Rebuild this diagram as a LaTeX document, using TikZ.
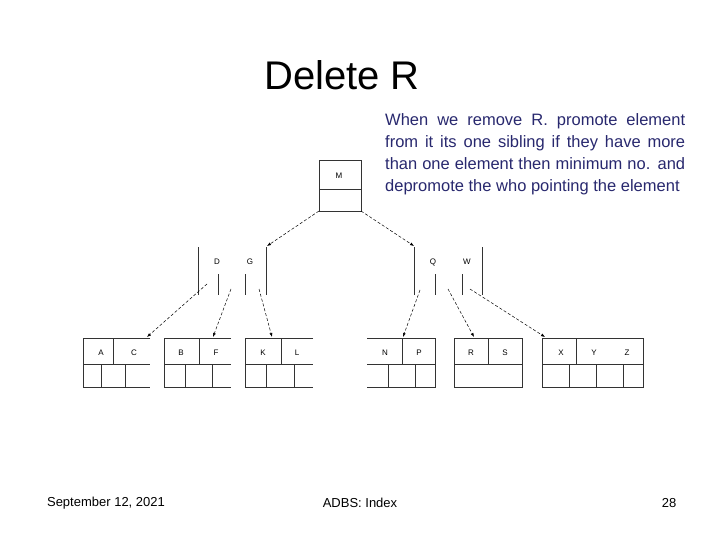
\documentclass[tikz,border=0pt]{standalone}
\usepackage{fontspec}
\setmainfont{Liberation Sans}
\usetikzlibrary{arrows.meta}
\definecolor{txtblue}{RGB}{40,40,110}
\begin{document}
\begin{tikzpicture}[x=1pt,y=-1pt,
  ln/.style={line width=0.6pt,black!80},
  ptr/.style={line width=0.5pt,densely dashed,-{Latex[length=4pt,width=3pt]}},
  lab/.style={font=\fontsize{8}{9}\selectfont,inner sep=0pt}]
\useasboundingbox (0,0) rectangle (720,540);
\node[font=\fontsize{40}{44}\selectfont] (title) at (342,75) {Delete R};
\node[text=txtblue,font=\fontsize{16.5}{22}\selectfont,text width=300pt,align=justify,anchor=north west,inner sep=0pt] (para) at (385,113)
 {When we remove R. promote element from it its one sibling if they have more than one element then minimum no. and depromote the who pointing the element};
\node[font=\fontsize{13}{15}\selectfont] (d) at (106,503) {September 12, 2021};
\node[font=\fontsize{13}{15}\selectfont] (c) at (360,503) {ADBS: Index};
\node[font=\fontsize{13}{15}\selectfont] (p) at (669,503) {28};
% root
\draw[ln] (319,160) rectangle (361,211); \draw[ln] (319,189)--(361,189);
\node[lab] (M) at (339,176) {M};
\coordinate (rl) at (319,211); \coordinate (rr) at (361,211);
% internal nodes
\foreach \x/\t in {198/247,218/274,245/274,266/247,414/247,435/274,462/274,482/247}
  \draw[ln] (\x,\t)--(\x,295);
\node[lab] (D) at (217,262) {D}; \node[lab] (G) at (250,262) {G};
\node[lab] (Q) at (433,262) {Q}; \node[lab] (W) at (467,262) {W};
\coordinate (lt) at (267,246); \coordinate (rt) at (414,246);
% leaves
\draw[ln] (150,338)-|(83,387)--(150,387); \draw[ln] (83,364)--(150,364);
\draw[ln] (113,338)--(113,364) (101,364)--(101,387) (125,364)--(125,387);
\node[lab] (A) at (101,353) {A}; \node[lab] (C) at (134,353) {C};
\draw[ln] (231,338)-|(164,387)--(231,387); \draw[ln] (164,364)--(231,364);
\draw[ln] (199,338)--(199,364) (185,364)--(185,387) (212,364)--(212,387);
\node[lab] (B) at (181,353) {B}; \node[lab] (F) at (216,353) {F};
\draw[ln] (313,338)-|(245,387)--(313,387); \draw[ln] (245,364)--(313,364);
\draw[ln] (281,338)--(281,364) (266,364)--(266,387) (294,364)--(294,387);
\node[lab] (K) at (263,353) {K}; \node[lab] (L) at (297,353) {L};
\draw[ln] (367,338)-|(435,387)--(367,387); \draw[ln] (367,364)--(435,364);
\draw[ln] (402,338)--(402,364) (388,364)--(388,387) (415,364)--(415,387);
\node[lab] (N) at (385,353) {N}; \node[lab] (P) at (419,353) {P};
\draw[ln] (454,338) rectangle (522,387); \draw[ln] (454,364)--(522,364);
\draw[ln] (488,338)--(488,364);
\node[lab] (R) at (471,353) {R}; \node[lab] (S) at (505,353) {S};
\draw[ln] (542,338) rectangle (643,387); \draw[ln] (542,364)--(643,364);
\draw[ln] (576,338)--(576,364) (569,364)--(569,387) (596,364)--(596,387) (623,364)--(623,387);
\node[lab] (X) at (561,353) {X}; \node[lab] (Y) at (594,353) {Y}; \node[lab] (Z) at (627,353) {Z};
% pointers
\draw[ptr] (rl)--(lt); \draw[ptr] (rr)--(rt);
\coordinate (a1) at (207,284); \coordinate (b1) at (147,337);
\coordinate (a2) at (231,289); \coordinate (b2) at (213,337);
\coordinate (a3) at (259,289); \coordinate (b3) at (272,337);
\coordinate (a4) at (420,290); \coordinate (b4) at (403,337);
\coordinate (a5) at (448,289); \coordinate (b5) at (474,337);
\coordinate (a6) at (470,289); \coordinate (b6) at (545,337);
\foreach \i in {1,...,6} \draw[ptr] (a\i)--(b\i);
\end{tikzpicture}
\end{document}
